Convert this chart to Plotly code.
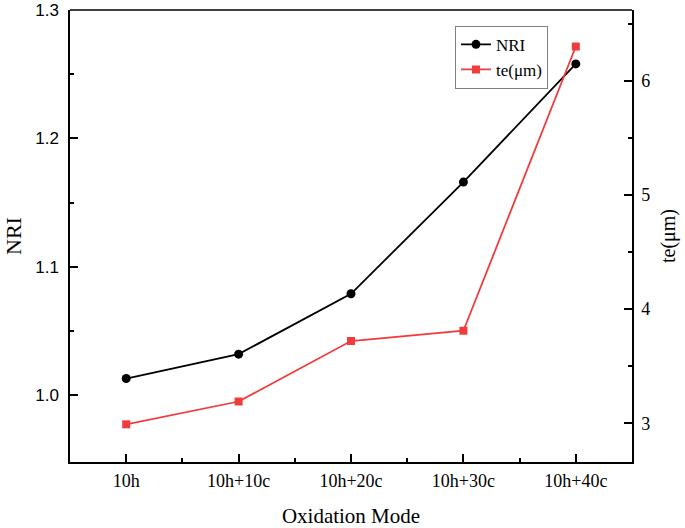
import plotly.graph_objects as go

categories = ["10h", "10h+10c", "10h+20c", "10h+30c", "10h+40c"]
nri = [1.013, 1.032, 1.079, 1.166, 1.258]
te = [2.99, 3.19, 3.72, 3.81, 6.30]

xpos = list(range(len(categories)))
red = "rgb(240,60,60)"
serif = "Times New Roman, Liberation Serif, serif"

fig = go.Figure()
fig.add_trace(go.Scatter(x=xpos, y=nri, name="NRI", mode="lines+markers",
                         line=dict(color="black", width=1.8),
                         marker=dict(symbol="circle", size=9, color="black")))
fig.add_trace(go.Scatter(x=xpos, y=te, name="te(μm)", mode="lines+markers", yaxis="y2",
                         line=dict(color=red, width=1.8),
                         marker=dict(symbol="square", size=8, color=red)))

fig.add_shape(type="line", xref="paper", yref="paper", x0=0, x1=1, y0=1, y1=1,
              line=dict(color="black", width=1.5))

fig.update_layout(
    width=685, height=528,
    margin=dict(l=70, r=53, t=10, b=66, autoexpand=False),
    plot_bgcolor="white", paper_bgcolor="white",
    showlegend=True,
    legend=dict(x=0.685, y=0.965, xanchor="left", yanchor="top",
                bordercolor="gray", borderwidth=1, bgcolor="white",
                font=dict(family=serif, size=17, color="black"),
                tracegroupgap=0, itemwidth=30),
    xaxis=dict(range=[-0.5, 4.5], tickvals=xpos, ticktext=categories,
               showgrid=False, zeroline=False, automargin=False,
               showline=True, linecolor="black", linewidth=1.5,
               ticks="inside", ticklen=8, tickwidth=1.5, tickcolor="black",
               minor=dict(dtick=0.5, tick0=0.5, ticks="inside", ticklen=4, tickwidth=1.5, tickcolor="black"),
               tickfont=dict(family=serif, size=18, color="black"),
               ticklabelstandoff=2,
               title=dict(text="Oxidation Mode", font=dict(family=serif, size=21, color="black"), standoff=20)),
    yaxis=dict(range=[0.948, 1.3], tickvals=[1.0, 1.1, 1.2, 1.3], ticktext=["1.0", "1.1", "1.2", "1.3"],
               showgrid=False, zeroline=False, automargin=False,
               showline=True, linecolor="black", linewidth=1.5,
               ticks="inside", ticklen=8, tickwidth=1.5, tickcolor="black",
               minor=dict(tickvals=[1.05, 1.15, 1.25], ticks="inside", ticklen=4, tickwidth=1.5, tickcolor="black"),
               tickfont=dict(family="Arial, Liberation Sans, sans-serif", size=17, color="black"),
               ticklabelstandoff=6,
               title=dict(text="NRI", font=dict(family=serif, size=22, color="black"), standoff=8)),
    yaxis2=dict(range=[2.66, 6.62], overlaying="y", side="right",
                tickvals=[3, 4, 5, 6], showgrid=False, zeroline=False, automargin=False,
                showline=True, linecolor="black", linewidth=1.5,
                ticks="inside", ticklen=8, tickwidth=1.5, tickcolor="black",
                minor=dict(tickvals=[3.5, 4.5, 5.5, 6.5], ticks="inside", ticklen=4, tickwidth=1.5, tickcolor="black"),
                tickfont=dict(family=serif, size=18, color="black"),
                ticklabelstandoff=4,
                title=dict(text="te(μm)", font=dict(family=serif, size=20, color="black"), standoff=12)),
)

fig.write_html("out.html", config={"displayModeBar": False},
               post_script="document.body.style.margin='0';")
